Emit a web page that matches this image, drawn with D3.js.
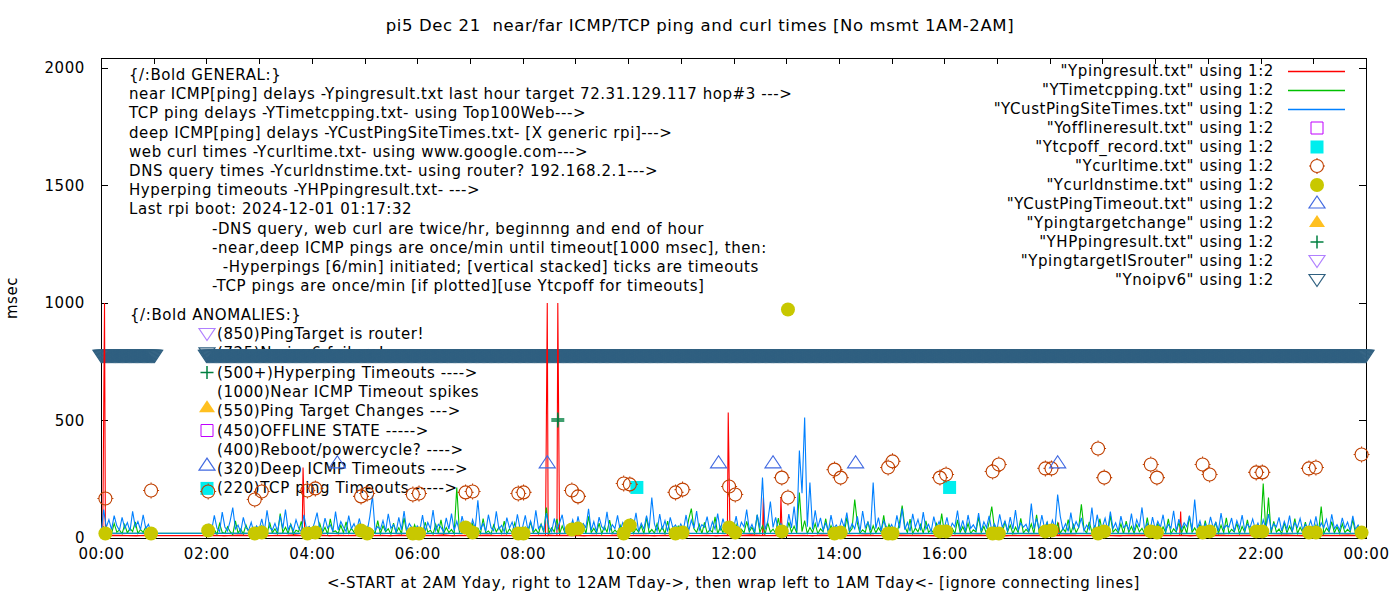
<!DOCTYPE html>
<html>
<head>
<meta charset="utf-8">
<script src="https://cdnjs.cloudflare.com/ajax/libs/d3/7.8.5/d3.min.js"></script>
<style>
  body { margin: 0; background: #fff; }
  svg text { font-family: "DejaVu Sans", sans-serif; font-size: 15px; letter-spacing: 0.58px; fill: #000; white-space: pre; }
  svg text.title { font-size: 16.5px; letter-spacing: 0.6px; }
</style>
</head>
<body>
<div id="chart"></div>
<script>

// ---------------- data ----------------
// times are "HH:MM"; the files start at 02:00, run to 24:00, then wrap to 00:00-01:00

var titleText = "pi5 Dec 21  near/far ICMP/TCP ping and curl times [No msmt 1AM-2AM]";
var xLabelText = "<-START at 2AM Yday, right to 12AM Tday->, then wrap left to 1AM Tday<- [ignore connecting lines]";
var yLabelText = "msec";

var xTickLabels = ["00:00", "02:00", "04:00", "06:00", "08:00", "10:00", "12:00",
                   "14:00", "16:00", "18:00", "20:00", "22:00", "00:00"];
var yTickValues = [0, 500, 1000, 1500, 2000];

// near ICMP (red) baseline, every 10 min
var redStep = 10;
var redMain = [ // 02:00 .. 24:00
  10, 12, 9, 11, 13, 10,
  11, 9, 12, 10, 14, 11,
  10, 13, 9, 12, 10, 11,
  12, 10, 11, 9, 13, 10,
  11, 12, 10, 14, 9, 11,
  10, 11, 13, 10, 12, 9,
  12, 10, 11, 13, 10, 12,
  11, 9, 12, 10, 11, 13,
  10, 12, 11, 9, 12, 10,
  13, 11, 10, 12, 9, 11,
  10, 12, 14, 11, 10, 12,
  11, 10, 12, 9, 13, 11,
  12, 11, 10, 13, 11, 10,
  10, 13, 11, 12, 10, 9,
  11, 10, 12, 11, 13, 10,
  12, 9, 11, 10, 12, 11,
  10, 12, 13, 11, 10, 12,
  11, 10, 9, 12, 11, 13,
  12, 11, 10, 12, 9, 11,
  10, 13, 11, 10, 12, 11,
  11, 10, 12, 13, 10, 9,
  12, 11, 10, 11, 13, 10,
  10
];
var redEarly = [10, 11, 12, 10, 9, 11, 10]; // 00:00 .. 01:00
// near ICMP timeout spikes (per-minute samples around each spike)
var redSpikes = [
  ["00:02", 10], ["00:03", 500], ["00:04", 1000], ["00:05", 11],
  ["03:49", 10], ["03:50", 300], ["03:51", 160], ["03:52", 10],
  ["08:26", 11], ["08:27", 500], ["08:28", 1000], ["08:29", 10],
  ["08:39", 10], ["08:40", 1000], ["08:41", 500], ["08:42", 12],
  ["11:53", 10], ["11:54", 534], ["11:55", 275], ["11:56", 11],
  ["12:33", 10], ["12:34", 172], ["12:35", 12],
  ["12:53", 11], ["12:54", 170], ["12:55", 60], ["12:56", 10],
  ["18:09", 10], ["18:10", 66], ["18:11", 11],
  ["20:28", 10], ["20:29", 113], ["20:31", 11]
];

// TCP ping (green), every 3 min
var tcpStep = 3;
var tcpMain = [
  18, 42, 22, 35, 16, 61, 24, 19, 48, 27, 15, 73, 21, 38, 17, 55, 26, 20, 44, 23,   // 02
  19, 51, 25, 17, 66, 22, 39, 18, 104, 24, 46, 20, 58, 16, 33, 27, 71, 21, 40, 18,  // 03
  24, 37, 19, 62, 23, 45, 17, 81, 26, 30, 18, 54, 22, 69, 20, 41, 25, 16, 57, 21,   // 04
  17, 48, 23, 35, 20, 74, 18, 52, 27, 39, 16, 63, 22, 44, 19, 86, 24, 31, 20, 56,   // 05
  22, 40, 18, 67, 25, 33, 16, 58, 21, 77, 19, 45, 23, 36, 17, 215, 26, 49, 20, 38,  // 06
  18, 61, 24, 42, 19, 83, 22, 30, 17, 55, 26, 47, 20, 72, 18, 39, 23, 64, 21, 34,   // 07
  25, 46, 19, 70, 22, 37, 18, 59, 24, 130, 20, 43, 26, 81, 17, 52, 23, 35, 19, 66,  // 08
  21, 38, 26, 57, 18, 92, 23, 41, 20, 63, 17, 49, 25, 76, 19, 34, 22, 54, 18, 45,   // 09
  23, 68, 19, 40, 25, 53, 17, 88, 22, 36, 20, 61, 24, 47, 18, 72, 21, 33, 26, 50,   // 10
  19, 44, 22, 79, 125, 39, 24, 58, 18, 66, 21, 35, 25, 90, 17, 48, 23, 62, 20, 41,  // 11
  24, 57, 18, 37, 22, 71, 26, 46, 19, 99, 23, 52, 17, 64, 25, 38, 20, 85, 22, 43,   // 12
  18, 66, 24, 50, 21, 193, 27, 74, 19, 45, 23, 61, 18, 39, 26, 82, 20, 53, 24, 36,  // 13
  22, 47, 19, 88, 25, 40, 164, 63, 20, 35, 24, 70, 18, 52, 22, 44, 26, 96, 19, 58,  // 14
  25, 38, 21, 65, 138, 49, 23, 80, 18, 42, 26, 57, 20, 73, 24, 36, 19, 61, 22, 104, // 15
  20, 54, 25, 41, 18, 77, 23, 48, 21, 62, 19, 35, 26, 89, 22, 50, 18, 67, 134, 43,  // 16
  24, 39, 20, 71, 26, 55, 18, 46, 23, 84, 21, 37, 25, 60, 19, 99, 22, 44, 27, 65,   // 17
  18, 52, 24, 63, 20, 40, 26, 78, 19, 57, 23, 45, 143, 36, 21, 69, 25, 50, 18, 82,  // 18
  23, 44, 19, 95, 25, 38, 21, 60, 17, 72, 24, 49, 20, 56, 26, 41, 18, 87, 22, 35,   // 19
  26, 61, 20, 47, 23, 81, 18, 39, 25, 66, 21, 52, 19, 93, 24, 43, 22, 58, 17, 74,   // 20
  21, 40, 25, 68, 19, 54, 23, 86, 20, 37, 26, 62, 18, 49, 24, 77, 21, 45, 19, 33,   // 21
  24, 232, 23, 172, 20, 71, 25, 38, 18, 64, 22, 50, 26, 83, 19, 46, 24, 67, 21, 39, // 22
  20, 55, 24, 134, 18, 42, 26, 70, 21, 48, 19, 61, 23, 37, 25, 79, 20, 52, 22, 18,  // 23
  18                                                                                // 24:00
];
var tcpEarly = [20, 46, 23, 38, 19, 62, 25, 34, 18, 57, 22, 41, 27, 69, 20, 36, 24, 48, 19, 20]; // 00:00..00:57

// deep ICMP (blue), every 3 min
var deepStep = 3;
var deepMain = [
  22, 58, 34, 96, 41, 28, 110, 47, 30, 72, 129, 38, 55, 26, 88, 44, 31, 67, 24, 52,    // 02
  36, 81, 29, 118, 45, 33, 62, 27, 94, 40, 121, 35, 58, 30, 77, 42, 26, 99, 38, 49,    // 03
  31, 64, 108, 37, 29, 85, 42, 56, 27, 112, 34, 70, 46, 28, 95, 39, 61, 30, 83, 35,    // 04
  44, 27, 91, 181, 33, 48, 36, 74, 29, 103, 41, 57, 26, 88, 35, 115, 31, 62, 43, 28,   // 05
  52, 34, 97, 28, 66, 40, 119, 31, 58, 45, 27, 86, 38, 104, 32, 71, 29, 93, 47, 36,    // 06
  30, 78, 41, 160, 35, 62, 28, 99, 44, 31, 113, 37, 54, 26, 87, 42, 68, 30, 101, 39,   // 07
  47, 96, 33, 72, 29, 118, 40, 58, 31, 106, 45, 27, 83, 36, 64, 99, 30, 52, 41, 77,    // 08
  28, 92, 37, 61, 44, 124, 32, 70, 26, 89, 48, 35, 111, 29, 57, 40, 96, 33, 66, 42,    // 09
  31, 84, 45, 107, 28, 63, 38, 95, 41, 172, 59, 30, 102, 36, 74, 27, 88, 43, 55, 32,   // 10
  60, 35, 98, 29, 76, 42, 115, 33, 57, 46, 91, 28, 69, 38, 104, 31, 82, 44, 53, 27,    // 11
  39, 93, 30, 67, 47, 121, 34, 58, 26, 99, 41, 257, 36, 72, 155, 45, 88, 32, 61, 40,   // 12
  29, 102, 43, 134, 31, 372, 190, 513, 48, 236, 37, 118, 45, 86, 33, 64, 28, 97, 41, 55, // 13
  34, 79, 46, 108, 30, 61, 39, 92, 27, 115, 44, 68, 33, 236, 40, 87, 29, 73, 48, 36,   // 14
  57, 31, 96, 42, 125, 35, 66, 28, 103, 45, 79, 32, 110, 38, 58, 27, 91, 43, 70, 34,   // 15
  42, 88, 30, 63, 47, 117, 33, 75, 28, 98, 41, 56, 35, 106, 29, 69, 44, 94, 31, 60,    // 16
  36, 101, 45, 72, 29, 89, 38, 119, 32, 64, 46, 58, 27, 147, 40, 83, 33, 97, 42, 68,   // 17
  30, 76, 43, 185, 92, 35, 61, 28, 108, 39, 70, 45, 86, 31, 55, 37, 130, 29, 99, 41,   // 18
  47, 84, 33, 112, 40, 65, 28, 93, 44, 57, 36, 104, 30, 78, 46, 130, 34, 62, 27, 89,   // 19
  38, 71, 45, 99, 31, 58, 42, 116, 29, 80, 37, 65, 48, 95, 33, 164, 40, 73, 28, 61,    // 20
  35, 90, 43, 67, 30, 106, 39, 54, 46, 85, 28, 74, 41, 97, 32, 59, 44, 81, 36, 63,     // 21
  29, 77, 42, 102, 34, 60, 47, 88, 30, 71, 38, 95, 27, 66, 45, 83, 33, 58, 40, 75,     // 22
  36, 92, 31, 64, 44, 79, 28, 101, 39, 57, 33, 86, 42, 68, 30, 94, 37, 55, 29, 24,     // 23
  20                                                                                   // 24:00
];
var deepEarly = [20, 121, 45, 78, 36, 95, 52, 33, 88, 41, 66, 29, 113, 47, 70, 35, 98, 40, 58, 25]; // 00:00..00:57

// web curl + DNS query, twice per hour (same timestamps)
var curlTimes = [
  "00:05", "00:57", "02:02", "02:55", "03:03", "03:55", "04:04", "04:56", "05:03", "05:55",
  "06:02", "06:55", "07:03", "07:55", "08:01", "08:56", "09:03", "09:55", "10:02", "10:54",
  "11:02", "11:55", "12:02", "12:55", "13:02", "13:55", "14:02", "14:56", "15:01", "15:55",
  "16:02", "16:55", "17:02", "17:55", "18:02", "18:55", "19:02", "19:55", "20:02", "20:54",
  "21:02", "21:55", "22:02", "22:55", "23:03", "23:55"
];
var curlValues = [
  168, 202, 198, 164, 198, 202, 211, 177, 189, 185,
  189, 194, 198, 189, 194, 202, 177, 232, 228, 194,
  206, 219, 185, 257, 172, 291, 257, 300, 326, 257,
  270, 283, 313, 296, 296, 381, 257, 313, 257, 313,
  270, 279, 279, 296, 300, 355
];
var dnsValues = [
  19, 19, 32, 19, 23, 19, 23, 32, 19, 19,
  19, 45, 23, 19, 19, 36, 40, 19, 53, 19,
  23, 45, 23, 28, 972, 19, 23, 19, 19, 28,
  28, 19, 19, 28, 32, 19, 28, 28, 23, 23,
  28, 28, 28, 23, 23, 23
];

var custTimeoutTimes = ["04:29", "08:28", "11:43", "12:45", "14:19", "18:09"];
var custTimeoutValue = 320;
var tcpoffTimes = ["10:10", "16:06"];
var tcpoffValue = 215;
var hpPings = [["08:40", 498], ["08:40", 506]];
// no ipv6: one sample per minute inside each run
var noipv6Runs = [["00:00", "01:01"], ["02:00", "24:00"]];
var noipv6Value = 775;

var legendLabels = [
  '"Ypingresult.txt" using 1:2', '"YTimetcpping.txt" using 1:2', '"YCustPingSiteTimes.txt" using 1:2',
  '"Yofflineresult.txt" using 1:2', '"Ytcpoff_record.txt" using 1:2', '"Ycurltime.txt" using 1:2',
  '"Ycurldnstime.txt" using 1:2', '"YCustPingTimeout.txt" using 1:2', '"Ypingtargetchange" using 1:2',
  '"YHPpingresult.txt" using 1:2', '"YpingtargetISrouter" using 1:2', '"Ynoipv6" using 1:2'
];
var legendKinds = ["red", "green", "blue", "offline", "tcpoff", "curl", "dns", "custto", "target", "hpping", "router", "noipv6"];

var generalLines = [
  "{/:Bold GENERAL:}",
  "near ICMP[ping] delays -Ypingresult.txt last hour target 72.31.129.117 hop#3 --->",
  "TCP ping delays -YTimetcpping.txt- using Top100Web--->",
  "deep ICMP[ping] delays -YCustPingSiteTimes.txt- [X generic rpi]--->",
  "web curl times -Ycurltime.txt- using www.google.com--->",
  "DNS query times -Ycurldnstime.txt- using router? 192.168.2.1--->",
  "Hyperping timeouts -YHPpingresult.txt- --->",
  "Last rpi boot: 2024-12-01 01:17:32",
  "-DNS query, web curl are twice/hr, beginnng and end of hour",
  "-near,deep ICMP pings are once/min until timeout[1000 msec], then:",
  "  -Hyperpings [6/min] initiated; [vertical stacked] ticks are timeouts",
  "-TCP pings are once/min [if plotted][use Ytcpoff for timeouts]"
];
var anomalyHeader = "{/:Bold ANOMALIES:}";
var anomalyLines = [
  "(850)PingTarget is router!", "(725)No ipv6 failure!", "(500+)Hyperping Timeouts ---->",
  "(1000)Near ICMP Timeout spikes", "(550)Ping Target Changes --->", "(450)OFFLINE STATE ----->",
  "(400)Reboot/powercycle? ---->", "(320)Deep ICMP Timeouts ---->", "(220)TCP ping Timeouts ----->"
];
var anomalyKinds = ["router", "noipv6", "hpping", null, "target", "offline", null, "custto", "tcpoff"];

// ---------------- helpers ----------------
function toMin(s) {
    var p = s.split(":");
    return (+p[0]) * 60 + (+p[1]);
}
// position in file order: 02:00..24:00 first, then the wrapped 00:00..01:59
function fileOrder(t) {
    return t < 120 ? t + 1441 : t;
}
function stepSeries(start, step, values) {
    var t0 = toMin(start);
    return values.map(function (v, i) { return {t: t0 + i * step, v: v}; });
}

var lineColors = {red: "#ff0000", green: "#00c000", blue: "#0080ff"};

var symbols = {
    offline: {d: "M-6,-6H6V6H-6Z", fill: "none", stroke: "#c000ff", sw: 1},
    tcpoff:  {d: "M-6.5,-6.5H6.5V6.5H-6.5Z", fill: "#00eeee", stroke: "none", sw: 0},
    // open circle with the small compass nubs gnuplot's png terminal leaves
    curl:    {d: "M-6.5,0A6.5,6.5 0 1,0 6.5,0A6.5,6.5 0 1,0 -6.5,0Z" +
                 "M0,-6.5V-8M0,6.5V8M-6.5,0H-8M6.5,0H8",
              fill: "none", stroke: "#c04000", sw: 1.1},
    dns:     {d: "M-7,0A7,7 0 1,0 7,0A7,7 0 1,0 -7,0Z", fill: "#c8c800", stroke: "none", sw: 0},
    custto:  {d: "M0,-7L8,5H-8Z", fill: "none", stroke: "#4169e1", sw: 1.2},
    target:  {d: "M0,-7L8,5H-8Z", fill: "#ffc020", stroke: "none", sw: 0},
    hpping:  {d: "M-6.5,0H6.5M0,-6.5V6.5", fill: "none", stroke: "#008040", sw: 1.5},
    router:  {d: "M-8,-5.5H8L0,6.5Z", fill: "none", stroke: "#b080ff", sw: 1.2},
    noipv6:  {d: "M-8,-5.5H8L0,6.5Z", fill: "none", stroke: "#306080", sw: 1.2}
};

function drawSymbol(g, kind, cx, cy) {
    var s = symbols[kind];
    g.append("path")
        .attr("d", s.d)
        .attr("transform", "translate(" + cx + "," + cy + ")")
        .attr("fill", s.fill)
        .attr("stroke", s.stroke)
        .attr("stroke-width", s.sw);
}

// ---------------- chart ----------------
var svg = d3.select("#chart").append("svg")
    .attr("width", 1400)
    .attr("height", 600);

svg.append("rect").attr("width", 1400).attr("height", 600).attr("fill", "#fff");

var plot = {left: 101, right: 1366, top: 58, bottom: 538};

var x = d3.scaleLinear().domain([0, 1440]).range([plot.left, plot.right]);
var y = d3.scaleLinear().domain([0, 2042]).range([plot.bottom, plot.top]);

// axes (ticks point inward, mirrored on top/right)
var hourTicks = d3.range(0, 1441, 60);
function xFmt(m) { return m % 120 === 0 ? xTickLabels[m / 120] : ""; }

var gx = svg.append("g")
    .attr("transform", "translate(0," + plot.bottom + ")")
    .call(d3.axisBottom(x).tickValues(hourTicks).tickFormat(xFmt)
        .tickSizeInner(-6).tickSizeOuter(0).tickPadding(10));
var gxTop = svg.append("g")
    .attr("transform", "translate(0," + plot.top + ")")
    .call(d3.axisTop(x).tickValues(hourTicks).tickFormat("")
        .tickSizeInner(-6).tickSizeOuter(0));
var gy = svg.append("g")
    .attr("transform", "translate(" + plot.left + ",0)")
    .call(d3.axisLeft(y).tickValues(yTickValues).tickFormat(d3.format("d"))
        .tickSizeInner(-7).tickSizeOuter(0).tickPadding(16));
var gyRight = svg.append("g")
    .attr("transform", "translate(" + plot.right + ",0)")
    .call(d3.axisRight(y).tickValues(yTickValues).tickFormat("")
        .tickSizeInner(-7).tickSizeOuter(0));

[gx, gxTop, gy, gyRight].forEach(function (g) {
    g.select(".domain").remove();
    g.selectAll("line").attr("stroke", "#000").attr("shape-rendering", "crispEdges");
});

svg.append("rect")
    .attr("x", plot.left).attr("y", plot.top)
    .attr("width", plot.right - plot.left).attr("height", plot.bottom - plot.top)
    .attr("fill", "none").attr("stroke", "#000")
    .attr("shape-rendering", "crispEdges");

// titles
svg.append("text").attr("class", "title").attr("x", 700).attr("y", 31)
    .attr("text-anchor", "middle").text(titleText);
svg.append("text").attr("x", (plot.left + plot.right) / 2).attr("y", 588)
    .attr("text-anchor", "middle").text(xLabelText);
svg.append("text").attr("transform", "translate(17," + ((plot.top + plot.bottom) / 2) + ") rotate(-90)")
    .attr("text-anchor", "middle").text(yLabelText);

// labels inside the graph (drawn behind the data)
var gLabels = svg.append("g");
generalLines.forEach(function (line, i) {
    gLabels.append("text")
        .attr("x", i >= 8 ? 212 : 129)
        .attr("y", 80 + i * 19.2)
        .text(line);
});
gLabels.append("text").attr("x", 130).attr("y", 320).text(anomalyHeader);
anomalyLines.forEach(function (line, i) {
    var cy = 334 + i * 19.3;
    gLabels.append("text").attr("x", 217).attr("y", cy + 5).text(line);
    var k = anomalyKinds[i];
    if (k) {
        drawSymbol(gLabels, k, 207, (k === "custto" || k === "target") ? cy - 4 : cy);
    }
});

// no ipv6 band: one triangle per minute
var gBand = svg.append("g");
noipv6Runs.forEach(function (run) {
    for (var t = toMin(run[0]); t <= toMin(run[1]); t++) {
        drawSymbol(gBand, "noipv6", x(t), y(noipv6Value));
    }
});

// lines, in file order so the wrap-around connecting line appears
var line = d3.line().x(function (d) { return x(d.t); }).y(function (d) { return y(d.v); });
function byFileOrder(a, b) { return fileOrder(a.t) - fileOrder(b.t); }

var spikePts = redSpikes.map(function (d) { return {t: toMin(d[0]), v: d[1]}; });
var spikeTimes = new Set(spikePts.map(function (d) { return d.t; }));
var redPts = stepSeries("02:00", redStep, redMain).concat(stepSeries("00:00", redStep, redEarly))
    .filter(function (d) { return !spikeTimes.has(d.t); })
    .concat(spikePts)
    .sort(byFileOrder);
var tcpPts = stepSeries("02:00", tcpStep, tcpMain).concat(stepSeries("00:00", tcpStep, tcpEarly));
var deepPts = stepSeries("02:00", deepStep, deepMain).concat(stepSeries("00:00", deepStep, deepEarly));

var gLines = svg.append("g").attr("fill", "none").attr("stroke-width", 1.1);
[[redPts, "red"], [tcpPts, "green"], [deepPts, "blue"]].forEach(function (s) {
    gLines.append("path")
        .datum(s[0])
        .attr("d", line)
        .attr("stroke", lineColors[s[1]]);
});

// point series
var gPts = svg.append("g");
tcpoffTimes.forEach(function (t) { drawSymbol(gPts, "tcpoff", x(toMin(t)), y(tcpoffValue)); });
curlTimes.forEach(function (t, i) { drawSymbol(gPts, "curl", x(toMin(t)), y(curlValues[i])); });
curlTimes.forEach(function (t, i) { drawSymbol(gPts, "dns", x(toMin(t)), y(dnsValues[i])); });
custTimeoutTimes.forEach(function (t) { drawSymbol(gPts, "custto", x(toMin(t)), y(custTimeoutValue)); });
hpPings.forEach(function (d) { drawSymbol(gPts, "hpping", x(toMin(d[0])), y(d[1])); });

// key
var gLegend = svg.append("g");
legendLabels.forEach(function (label, i) {
    var cy = 71 + i * 19;
    gLegend.append("text")
        .attr("x", 1274).attr("y", cy + 5)
        .attr("text-anchor", "end")
        .text(label);
    var k = legendKinds[i];
    if (lineColors[k]) {
        gLegend.append("line")
            .attr("x1", 1288).attr("x2", 1345)
            .attr("y1", cy + 0.5).attr("y2", cy + 0.5)
            .attr("stroke", lineColors[k])
            .attr("stroke-width", 1.6);
    } else {
        drawSymbol(gLegend, k, 1317, (k === "custto" || k === "target") ? cy - 1 : cy);
    }
});

</script>
</body>
</html>
